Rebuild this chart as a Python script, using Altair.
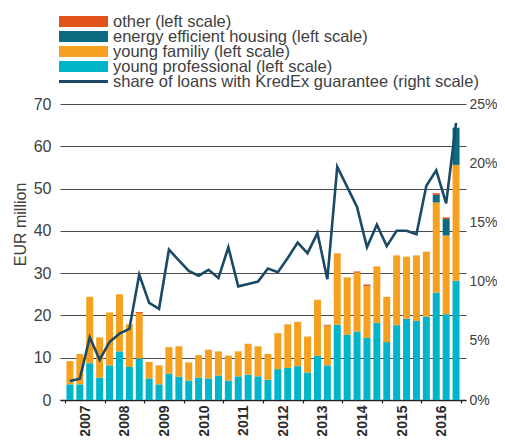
import altair as alt
import pandas as pd

# ---------------- data ----------------
quarters = [f"{y}Q{q}" for y in range(2007, 2017) for q in range(1, 5)]

young_professional = [3.7, 3.7, 8.7, 5.3, 8.2, 11.5, 7.8, 9.8,
                      5.1, 3.7, 6.2, 5.5, 4.6, 5.3, 5.1, 5.8,
                      4.6, 5.6, 6.0, 5.6, 4.8, 7.3, 7.6, 8.0,
                      6.5, 10.4, 8.2, 17.8, 15.4, 16.2, 14.7, 18.2,
                      13.7, 17.7, 19.2, 18.7, 19.7, 25.4, 20.3, 28.2]
young_family = [5.5, 7.2, 15.7, 9.5, 12.5, 13.5, 10.1, 10.7,
                3.9, 4.5, 6.3, 7.2, 4.3, 5.3, 6.8, 5.7,
                5.9, 5.9, 7.3, 7.1, 6.1, 8.5, 10.3, 10.5,
                8.5, 13.3, 9.4, 16.9, 13.6, 13.9, 12.2, 13.4,
                10.7, 16.5, 14.7, 15.5, 15.4, 21.3, 18.6, 27.4]
energy_efficient = [0] * 37 + [1.8, 3.9, 8.8]
other = [0, 0, 0, 0, 0, 0, 0, 0.3,
         0, 0, 0, 0, 0, 0, 0, 0,
         0, 0, 0, 0, 0, 0, 0, 0,
         0, 0, 0.2, 0, 0, 0.3, 0.4, 0,
         0, 0, 0, 0, 0, 0.4, 0.4, 0]
share_pct = [1.6, 1.8, 5.3, 3.4, 4.9, 5.6, 6.0, 10.6,
             8.2, 7.7, 12.7, 11.8, 10.9, 10.5, 11.0, 10.3,
             12.9, 9.6, 9.8, 10.0, 11.1, 10.8, 12.0, 13.3,
             12.4, 14.1, 10.2, 19.7, 18.0, 16.3, 12.9, 14.8,
             13.0, 14.3, 14.3, 14.0, 18.1, 19.4, 16.6, 23.4]

series_names = ["other (left scale)",
                "energy efficient housing (left scale)",
                "young familiy (left scale)",
                "young professional (left scale)"]
series_colors = ["#e0531b", "#0b6b80", "#f5a11f", "#00b5c9"]
line_name = "share of loans with KredEx guarantee (right scale)"
line_color = "#1b4a66"

all_labels = series_names + [line_name]
all_colors = series_colors + [line_color]

# ---------------- tables ----------------
stack_values = {
    "young professional (left scale)": young_professional,
    "young familiy (left scale)": young_family,
    "energy efficient housing (left scale)": energy_efficient,
    "other (left scale)": other,
}
rows = []
for i, q in enumerate(quarters):
    for order, (name, vals) in enumerate(stack_values.items()):
        rows.append({"quarter": q, "pos": i + 0.5, "series": name,
                     "value": vals[i], "order": order})
bars_df = pd.DataFrame(rows)
line_df = pd.DataFrame({"quarter": quarters,
                        "pos": [i + 0.5 for i in range(len(quarters))],
                        "share": share_pct,
                        "series": line_name})
legend_df = pd.DataFrame({"label": all_labels,
                          "row": list(range(len(all_labels))),
                          "sw": [11] * len(series_names) + [3]})

FONT = "Liberation Sans"
TXT = "#404040"
W, H = 406, 296
year_px = W / 10.0

color_scale = alt.Scale(domain=all_labels, range=all_colors)

x_enc = alt.X("pos:Q",
              scale=alt.Scale(domain=[0, 40], nice=False, zero=False),
              axis=alt.Axis(values=list(range(0, 41, 4)),
                            labelExpr="datum.value < 40 ? '' + (2007 + datum.value / 4) : ''",
                            labelOffset=year_px / 2,
                            labelAngle=270, labelFontWeight="bold", labelFontSize=14,
                            labelColor="#2a2a2a", labelPadding=2, labelOverlap=False,
                            labelBound=False, labelFlush=False,
                            tickSize=3, tickColor="#222", tickWidth=1.2,
                            domainColor="#222", domainWidth=1.5, grid=False, title=None))

bars = alt.Chart(bars_df).mark_bar(size=7).encode(
    x=x_enc,
    y=alt.Y("value:Q", stack="zero",
            scale=alt.Scale(domain=[0, 70], nice=False),
            axis=alt.Axis(values=list(range(0, 71, 10)), grid=True, gridColor="#4a4a4a",
                          gridWidth=1, domain=False, ticks=False, labelFontSize=16,
                          labelColor=TXT, labelPadding=9, title="EUR million",
                          titleFontSize=16, titleFontWeight="normal", titleColor=TXT,
                          titleAngle=270, titleX=-40, titleY=120, titleAlign="center",
                          titleBaseline="middle")),
    color=alt.Color("series:N", scale=color_scale, legend=None),
    order=alt.Order("order:Q"),
)

line = alt.Chart(line_df).mark_line(strokeWidth=2.6, color=line_color).encode(
    x=alt.X("pos:Q"),
    y=alt.Y("share:Q", scale=alt.Scale(domain=[0, 25], nice=False),
            axis=alt.Axis(orient="right", values=list(range(0, 26, 5)),
                          labelExpr="datum.value + '%'", grid=False, domain=False,
                          ticks=False, labelFontSize=14, labelColor=TXT,
                          labelPadding=3, title=None)),
)

# legend drawn as marks (rows 15 px apart above the plot)
legend_y = alt.Y("row:Q", scale=alt.Scale(domain=[0, 4], range=[-82.5, -22.5],
                                          nice=False, zero=False), axis=None)

legend_swatch = alt.Chart(legend_df).mark_rule(strokeCap="butt").encode(
    x=alt.value(-1), x2=alt.value(48),
    y=legend_y,
    color=alt.Color("label:N", scale=color_scale, legend=None),
    strokeWidth=alt.StrokeWidth("sw:Q", scale=None),
)

legend_text = alt.Chart(legend_df).mark_text(
    align="left", baseline="middle", fontSize=16.5, color=TXT, font=FONT
).encode(
    x=alt.value(53),
    y=legend_y,
    text="label:N",
)

chart = alt.layer(bars, line, legend_swatch, legend_text).resolve_scale(
    y="independent"
).properties(
    width=W, height=H,
    padding={"left": 52, "top": 96, "right": 31, "bottom": 36},
    autosize=alt.AutoSizeParams(type="none"),
).configure(font=FONT).configure_view(stroke=None)

chart.save("out.html", embed_options={"renderer": "svg", "actions": False})
